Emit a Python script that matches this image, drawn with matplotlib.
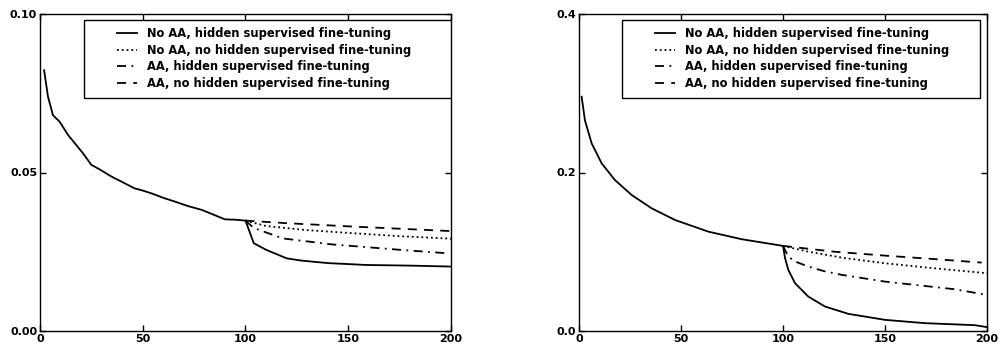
import matplotlib
matplotlib.use("Agg")
import matplotlib.pyplot as plt
from matplotlib.patches import Rectangle

plt.rcParams.update(
    {
        "font.family": "DejaVu Sans",
        "font.weight": "bold",
        "font.size": 8,
        "xtick.direction": "in",
        "ytick.direction": "in",
        "xtick.top": True,
        "ytick.right": True,
    }
)

LABELS = [
    "No AA, hidden supervised fine-tuning",
    "No AA, no hidden supervised fine-tuning",
    "AA, hidden supervised fine-tuning",
    "AA, no hidden supervised fine-tuning",
]
STYLES = ["-", ":", (0, (5, 3, 1, 3)), (0, (5, 4))]

# left panel: shared first 100 epochs, then four branches
left_x0 = [2, 3.9, 6.3, 9.6, 13.7, 18.5, 21, 25, 29, 34.8, 40, 46, 50, 54.3, 60,
           65.7, 72, 78.7, 84, 90, 95, 100]
left_y0 = [0.0823, 0.0739, 0.0681, 0.066, 0.0618, 0.058, 0.056, 0.0524, 0.051,
           0.0487, 0.047, 0.045, 0.0443, 0.0434, 0.042, 0.0408, 0.0394, 0.0382,
           0.0368, 0.0352, 0.0351, 0.0348]
left_solid_x = [100, 104, 110, 120, 127, 140, 159, 180, 200]
left_solid_y = [0.0348, 0.0277, 0.0256, 0.0229, 0.0222, 0.0214, 0.0208, 0.0206, 0.0203]
left_dot_x = [100, 110, 130, 153, 175, 200]
left_dot_y = [0.0348, 0.0331, 0.0318, 0.0308, 0.0299, 0.0291]
left_dd_x = [100, 104, 118, 142, 175, 198]
left_dd_y = [0.0348, 0.0325, 0.0292, 0.0273, 0.0256, 0.0245]
left_dash_x = [100, 120, 153, 180, 200]
left_dash_y = [0.0348, 0.0340, 0.0329, 0.0321, 0.0315]

# right panel
right_x0 = [1.3, 2.9, 6.2, 11.1, 17.6, 25.8, 35.6, 47, 63.4, 79.8, 100]
right_y0 = [0.2957, 0.266, 0.2368, 0.2116, 0.1905, 0.1716, 0.1548, 0.1401, 0.1253,
            0.1157, 0.1073]
right_solid_x = [100, 101, 102.6, 105.9, 112.4, 120.6, 132, 150, 169.6, 194, 200]
right_solid_y = [0.1073, 0.092, 0.077, 0.0602, 0.0433, 0.0307, 0.0215, 0.0139,
                 0.0097, 0.0072, 0.0047]
right_dot_x = [100, 112.4, 130, 150, 175, 200]
right_dot_y = [0.1073, 0.100, 0.092, 0.0854, 0.0788, 0.0728]
right_dd_x = [100, 102.6, 106, 112.4, 120, 128.8, 150, 184, 200]
right_dd_y = [0.1073, 0.0938, 0.0875, 0.0812, 0.0755, 0.0707, 0.0622, 0.0526, 0.0454]
right_dash_x = [100, 105.9, 125, 150, 175, 197.4]
right_dash_y = [0.1073, 0.1056, 0.100, 0.095, 0.0905, 0.0862]


def draw_panel(ax, x0, y0, branches, ymax, yticks, ylabels, legend_box, handle_x):
    ax.plot(x0, y0, color="black", lw=1.3)
    handles = []
    for (bx, by), style, label in zip(branches, STYLES, LABELS):
        (line,) = ax.plot(bx, by, color="black", lw=1.3, linestyle=style, label=label)
        handles.append(line)
    ax.set_xlim(0, 200)
    ax.set_ylim(0, ymax)
    ax.set_xticks([0, 50, 100, 150, 200])
    ax.set_yticks(yticks)
    ax.set_yticklabels(ylabels)
    ax.tick_params(length=4, width=1, pad=2, labelsize=8)
    for spine in ax.spines.values():
        spine.set_linewidth(1.0)

    x, y, w, h = legend_box
    ax.add_patch(
        Rectangle((x, y), w, h, transform=ax.transAxes, fill=False,
                  edgecolor="black", lw=1.0, zorder=5)
    )
    ax.legend(
        handles=handles,
        loc="upper left",
        bbox_to_anchor=(handle_x, 0.970),
        frameon=False,
        handlelength=1.75,
        handletextpad=0.87,
        labelspacing=0.31,
        borderaxespad=0,
        borderpad=0.3,
        prop={"weight": "bold", "size": 8.3},
    )


fig = plt.figure(figsize=(10, 3.45), dpi=100)
ax1 = fig.add_axes([0.040, 0.041, 0.411, 0.918])
ax2 = fig.add_axes([0.579, 0.041, 0.408, 0.918])

draw_panel(
    ax1, left_x0, left_y0,
    [(left_solid_x, left_solid_y), (left_dot_x, left_dot_y),
     (left_dd_x, left_dd_y), (left_dash_x, left_dash_y)],
    0.10, [0.0, 0.05, 0.10], ["0.00", "0.05", "0.10"],
    (0.106, 0.736, 0.896, 0.245), 0.1785,
)
draw_panel(
    ax2, right_x0, right_y0,
    [(right_solid_x, right_solid_y), (right_dot_x, right_dot_y),
     (right_dd_x, right_dd_y), (right_dash_x, right_dash_y)],
    0.4, [0.0, 0.2, 0.4], ["0.0", "0.2", "0.4"],
    (0.105, 0.736, 0.877, 0.245), 0.178,
)

fig.savefig("out.png", dpi=100)
